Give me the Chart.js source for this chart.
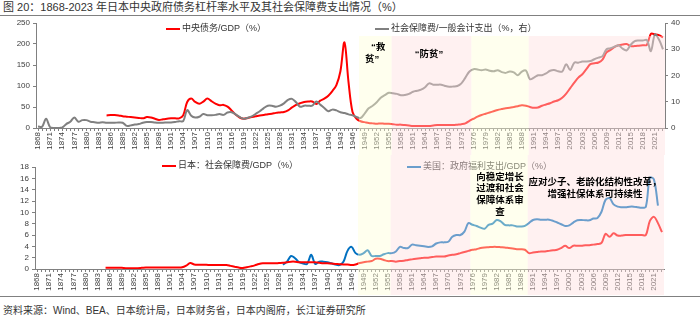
<!DOCTYPE html>
<html>
<head>
<meta charset="utf-8">
<script src="https://cdn.jsdelivr.net/npm/chart.js@4"></script>
<style>
  body { margin: 0; width: 700px; height: 322px; background: #fff; position: relative; overflow: hidden;
         font-family: "Liberation Sans", "Noto Sans CJK SC", sans-serif; }
  #title { position: absolute; left: 3px; top: 0; font-size: 11px; line-height: 15px; color: #333; white-space: nowrap; }
  #tline { position: absolute; left: 0; top: 15px; width: 700px; border-top: 1px solid #808080; }
  #c1 { position: absolute; left: 0; top: 16px; }
  #c2 { position: absolute; left: 0; top: 155px; }
  #bline { position: absolute; left: 0; top: 296px; width: 700px; border-top: 1px solid #808080; }
  #src { position: absolute; left: 3px; top: 304px; font-size: 10px; line-height: 14px; color: #333; white-space: nowrap; }
</style>
</head>
<body>
<div id="title">图 20：1868-2023 年日本中央政府债务杠杆率水平及其社会保障费支出情况（%）</div>
<div id="tline"></div>
<canvas id="c1" width="700" height="139"></canvas>
<canvas id="c2" width="700" height="140"></canvas>
<div id="bline"></div>
<div id="src">资料来源：Wind、BEA、日本统计局，日本财务省，日本内阁府，长江证券研究所</div>

<script>
// year categories 1868-2023
const firstYear = 1868, lastYear = 2023;
const years = [];
for (let y = firstYear; y <= lastYear; y++) years.push(String(y));

// axis tick values
const debtTicks = [0, 50, 100, 150, 200, 250];
const shareTicks = [0, 10, 20, 30, 40];
const gdpTicks = [0, 2, 4, 6, 8, 10, 12, 14, 16, 18];

// top panel: central government debt / GDP (%), left axis, from 1885
const debtStart = 1885;
const debtGdp = [
  30, 31, 31, 30, 28, 27, 26, 25, 24, 23, 26, 25, 22, 19, 21, 22, 23, 23, 23, 30,   // 1885-1904
  62, 70, 62, 58, 63, 70, 64, 58, 54, 55, 51, 42, 32, 25, 22, 24, 26, 28, 30, 31,   // 1905-1924
  33, 34, 36, 37, 38, 42, 49, 55, 59, 62, 63, 63, 57, 65, 70, 77, 88, 102, 135, 204, // 1925-1944
  110, 38, 22, 16, 14, 12, 11, 10, 11, 10, 10, 9, 8, 8, 7, 6, 5, 5, 5, 5,          // 1945-1964
  5, 6, 7, 7, 7, 7, 7, 8, 9, 11, 17, 22, 27, 31, 34, 37, 40, 43, 45, 47,           // 1965-1984
  48, 50, 52, 54, 53, 50, 48, 49, 53, 56, 59, 63, 66, 72, 82, 95, 108, 120, 128, 140, // 1985-2004
  152, 154, 156, 163, 180, 186, 193, 197, 199, 200, 195, 195, 196, 197, 198, 224, 223, 221, 216 // 2005-2023
];

// top panel: social security / general account spending (%), right axis, from 1868
const ssShareStart = 1868;
const ssShare = [
  0.6, 0.5, 3.5, 0.3, 0, 0, 0.2, 1.5, 2.4, 4.0, 2.4, 3.0, 3.0, 2.4, 2.2, 2.0, 2.2, 2.0, 2.0, 2.0, // 1868-1887
  2.1, 2.0, 0.8, 1.0, 1.3, 1.5, 2.0, 2.3, 2.3, 2.1, 2.0, 2.0, 2.1, 2.1, 2.3, 2.6, 2.6, 6.8, 4.7, 4.0, // 1888-1907
  4.3, 5.3, 4.9, 4.9, 5.0, 5.3, 5.0, 5.9, 6.0, 5.2, 4.2, 3.5, 3.9, 4.4, 5.4, 6.4, 7.6, 8.5, 8.5, 8.1, // 1908-1927
  8.5, 9.4, 10.7, 11.1, 9.8, 8.1, 8.5, 8.5, 8.5, 10.1, 8.9, 7.6, 6.4, 7.0, 6.7, 6.0, 5.7, 5.2, 4.8, 4.2, // 1928-1947
  3.8, 5.5, 7.5, 8.5, 9.8, 11.5, 12.5, 13.4, 13.2, 13.0, 12.5, 12.6, 13.0, 13.8, 14.2, 14.6, 15.5, 17.0, 16.5, 16.5, // 1948-1967
  16.5, 16.0, 15.7, 15.8, 16.0, 17.0, 19.2, 21.5, 22.4, 22.3, 22.0, 22.3, 21.8, 21.6, 22.0, 21.3, 21.0, 21.5, 21.2, 20.1, // 1968-1987
  21.5, 21.9, 18.6, 19.2, 20.1, 20.1, 20.8, 21.8, 22.1, 21.6, 21.5, 24.3, 22.1, 24.9, 24.9, 25.3, 25.3, 25.5, 26.2, 26.8, // 1988-2007
  27.4, 30.0, 30.4, 31.0, 31.5, 30.2, 29.6, 31.7, 33.1, 33.3, 33.3, 33.5, 29.3, 35.6, 33.7, 30.0  // 2008-2023
];

// bottom panel: Japan social security / GDP (%), from 1885
const jpStart = 1885;
const jpSsGdp = [
  0.2, 0.2, 0.2, 0.2, 0.2, 0.15, 0.15, 0.15, 0.15, 0.2, 0.25, 0.25, 0.25, 0.25, 0.25, 0.25, 0.25, 0.25, 0.25, 0.3, // 1885-1904
  0.6, 1.05, 0.8, 0.75, 0.75, 0.75, 0.7, 0.7, 0.7, 0.7, 0.7, 0.55, 0.4, 0.25, 0.17, 0.3, 0.46, 0.64, 0.87, 1.0,   // 1905-1924
  1.0, 1.0, 1.0, 1.05, 1.1, 1.2, 1.3, 1.3, 1.2, 1.2, 1.2, 1.2, 1.2, 1.1, 1.0, 1.0, 0.95, 0.9, 0.85, 0.8,          // 1925-1944
  0.8, 0.7, 0.8, 1.05, 1.2, 1.3, 1.4, 1.8, 1.8, 1.6, 1.4, 1.4, 1.3, 1.4, 1.45, 1.6, 1.7, 1.8, 1.9, 2.0,          // 1945-1964
  2.0, 2.1, 2.2, 2.2, 2.2, 2.4, 2.5, 2.6, 2.8, 3.0, 3.2, 3.4, 3.5, 3.7, 3.8, 3.85, 3.9, 3.9, 3.85, 3.8,          // 1965-1984
  3.7, 3.6, 3.5, 3.5, 3.4, 2.8, 2.9, 3.0, 3.1, 3.1, 3.2, 3.3, 3.4, 3.7, 4.1, 3.7, 4.1, 4.1, 4.1, 4.2,            // 1985-2004
  4.2, 4.3, 4.4, 4.6, 6.2, 5.7, 6.3, 5.9, 5.9, 6.0, 6.0, 6.0, 6.0, 6.0, 6.0, 8.5, 9.2, 8.1, 6.5                   // 2005-2023
];

// bottom panel: US government welfare spending / GDP (%), from 1929
const usStart = 1929;
const usWelfareGdp = [
  0.75, 1.3, 2.3, 1.9, 1.2, 0.95, 0.9, 2.5, 0.9, 1.3, 1.3, 1.2, 1.0, 0.8, 0.7, 1.3,   // 1929-1944
  3.2, 3.9, 2.8, 2.5, 2.8, 3.3, 2.3, 2.3, 2.3, 2.6, 2.8, 2.8, 3.1, 3.9, 3.7, 3.7,     // 1945-1960
  4.3, 4.2, 4.1, 4.0, 3.9, 4.0, 4.5, 4.7, 4.7, 4.8, 5.7, 6.0, 6.0, 6.6, 8.1, 7.8,     // 1961-1976
  7.6, 7.3, 7.1, 7.8, 8.0, 8.65, 8.4, 7.8, 7.7, 7.7, 7.5, 7.5, 7.6, 8.1, 8.65, 8.8,   // 1977-1992
  8.7, 8.7, 8.7, 8.5, 8.2, 7.9, 7.6, 7.7, 8.2, 8.6, 8.65, 8.6, 8.6, 8.9, 9.0, 10.1,   // 1993-2008
  12.2, 12.5, 11.4, 11.0, 10.9, 10.9, 11.0, 11.0, 10.9, 10.8, 11.0, 16.1, 15.8, 11.2  // 2009-2022
];

// shaded policy periods
const periodEdges = [1947.6, 1955.7, 1975.5, 1989.7, 2023.5];
const periodKinds = ["yellow", "pink", "yellow", "pink"];

const FONT = '"Liberation Sans", "Noto Sans CJK SC", sans-serif';
const tint = { yellow: "rgba(255,255,215,0.42)", pink: "rgba(255,222,222,0.42)" };

function pad(start, values) {
  const out = new Array(start - firstYear).fill(null);
  return out.concat(values);
}

function shade(chart, top, bottom) {
  const ctx = chart.ctx, xs = chart.scales.x;
  for (let i = 0; i < periodKinds.length; i++) {
    const x0 = xs.getPixelForValue(periodEdges[i] - firstYear);
    const x1 = xs.getPixelForValue(periodEdges[i + 1] - firstYear);
    ctx.fillStyle = tint[periodKinds[i]];
    ctx.fillRect(x0, top, x1 - x0, bottom - top);
  }
}

function legendItem(ctx, x, y, color, text) {
  ctx.strokeStyle = color;
  ctx.lineWidth = 2;
  ctx.beginPath(); ctx.moveTo(x, y); ctx.lineTo(x + 14, y); ctx.stroke();
  ctx.fillStyle = "#333";
  ctx.font = "9px " + FONT;
  ctx.textAlign = "left";
  ctx.textBaseline = "middle";
  ctx.fillText(text, x + 16, y);
}

function notes(ctx, lines, x, y, step) {
  ctx.fillStyle = "#000";
  ctx.font = "bold 9.5px " + FONT;
  ctx.textAlign = "center";
  ctx.textBaseline = "middle";
  lines.forEach((t, i) => ctx.fillText(t, x, y + i * step));
}

function xAxis(h) {
  return {
    type: "category",
    offset: true,
    grid: { display: true, drawOnChartArea: false, tickLength: 3, color: "#808080", offset: false },
    border: { color: "#808080" },
    ticks: {
      autoSkip: false, maxRotation: 90, minRotation: 90, padding: 1,
      font: { size: 8, family: FONT }, color: "#404040",
      callback: (v, i) => (i % 3 === 0 ? years[i] : "")
    },
    afterFit: s => { s.height = h; }
  };
}

function yAxis(pos, tickValues, w) {
  return {
    position: pos, min: tickValues[0], max: tickValues[tickValues.length - 1],
    grid: { display: true, drawOnChartArea: false, tickLength: 3, color: "#808080" },
    border: { color: "#808080" },
    ticks: {
      autoSkip: false, autoSkipPadding: 0, maxTicksLimit: 30, padding: 3,
      stepSize: tickValues[1] - tickValues[0],
      font: { size: 8, family: FONT, lineHeight: 1 }, color: "#404040"
    },
    afterBuildTicks: s => { s.ticks = tickValues.map(v => ({ value: v })); },
    afterFit: s => { s.width = w; }
  };
}

const line = (data, color, axis) => ({
  data: data, borderColor: color, borderWidth: 2, pointRadius: 0,
  tension: 0.35, fill: false, yAxisID: axis
});

// top chart
new Chart(document.getElementById("c1").getContext("2d"), {
  type: "line",
  data: {
    labels: years,
    datasets: [
      line(pad(ssShareStart, ssShare), "#808080", "y1"),
      line(pad(debtStart, debtGdp), "#ff0000", "y")
    ]
  },
  options: {
    responsive: false, animation: false,
    layout: { padding: { top: 6, left: 0, right: 0, bottom: 0 } },
    plugins: { legend: { display: false }, tooltip: { enabled: false } },
    scales: { x: xAxis(27), y: yAxis("left", debtTicks, 36), y1: yAxis("right", shareTicks, 35) }
  },
  plugins: [{
    id: "topDecor",
    afterDraw(chart) {
      const ctx = chart.ctx;
      shade(chart, 20, chart.height);
      legendItem(ctx, 166, 13, "#ff0000", "中央债务/GDP（%）");
      legendItem(ctx, 375, 13, "#808080", "社会保障费/一般会计支出（%，右）");
      notes(ctx, ["“救"], 378, 31, 0);
      notes(ctx, ["贫”"], 372, 43, 0);
      notes(ctx, ["“防贫”"], 429, 38, 0);
    }
  }]
});

// bottom chart
new Chart(document.getElementById("c2").getContext("2d"), {
  type: "line",
  data: {
    labels: years,
    datasets: [
      line(pad(jpStart, jpSsGdp), "#ff0000", "y"),
      line(pad(usStart, usWelfareGdp), "#0070c0", "y")
    ]
  },
  options: {
    responsive: false, animation: false,
    layout: { padding: { top: 12, left: 0, right: 36, bottom: 0 } },
    plugins: { legend: { display: false }, tooltip: { enabled: false } },
    scales: { x: xAxis(26), y: yAxis("left", gdpTicks, 35) }
  },
  plugins: [{
    id: "bottomDecor",
    afterDraw(chart) {
      const ctx = chart.ctx;
      legendItem(ctx, 162, 11, "#ff0000", "日本：社会保障费/GDP（%）");
      legendItem(ctx, 407, 12, "#0070c0", "美国：政府福利支出/GDP（%）");
      shade(chart, 0, chart.height);
      notes(ctx, ["向稳定增长", "过渡和社会", "保障体系审", "查"], 500, 22, 11.7);
      notes(ctx, ["应对少子、老龄化结构性改革，", "增强社保体系可持续性"], 595, 27, 12);
    }
  }]
});
</script>
</body>
</html>
